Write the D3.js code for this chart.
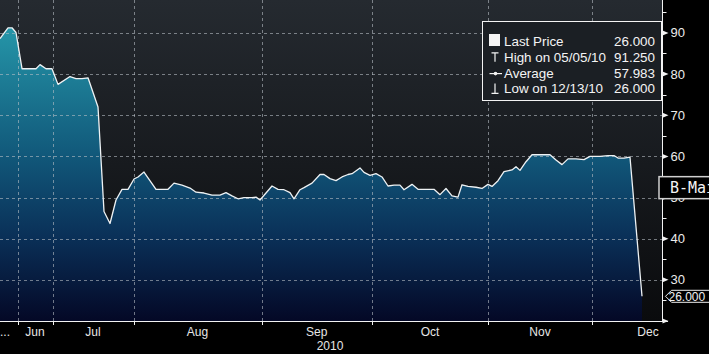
<!DOCTYPE html>
<html>
<head>
<meta charset="utf-8">
<script src="https://cdn.jsdelivr.net/npm/d3@7"></script>
<style>
  html, body { margin: 0; padding: 0; background: #000; overflow: hidden; }
  svg { display: block; }
</style>
</head>
<body>
<div id="wrapper"></div>
<script>
// 1. Data. t = position along the session axis, v = price
const sessions = [0, 4, 6, 8, 11, 18, 20, 23, 26, 29, 35, 38, 41, 44, 49, 52, 55, 58, 61, 64,
  67, 69, 72, 78, 84, 87, 91, 95, 98, 102, 106, 110, 113, 116, 119, 122, 126, 128, 130, 133,
  136, 139, 142, 145, 147, 150, 152, 156, 160, 162, 165, 168, 171, 174, 176, 180, 182, 185, 188, 191,
  194, 197, 200, 202, 206, 209, 212, 217, 220, 223, 226, 229, 231, 234, 238, 241, 244, 246, 249, 252,
  256, 258, 260, 263, 266, 270, 275, 278, 281, 284, 288, 292, 295, 300, 304, 307, 309, 312, 315, 321];
const prices = [88.6, 91.25, 91.25, 90.1, 81.3, 81.3, 82.3, 81.3, 81.3, 77.5, 79.4, 78.9, 78.9, 79.1, 72.0, 46.6, 43.7, 49.4, 52.0, 52.0,
  54.5, 55.0, 56.2, 52.0, 52.0, 53.5, 53.0, 52.3, 51.3, 51.1, 50.6, 50.6, 51.2, 50.4, 49.7, 50.0, 50.0, 50.1, 49.4, 51.1,
  52.8, 52.0, 51.9, 51.2, 49.7, 51.9, 52.4, 53.5, 55.6, 55.6, 54.6, 54.1, 55.0, 55.6, 55.8, 57.2, 56.1, 55.4, 55.8, 55.0,
  52.8, 53.0, 53.0, 51.9, 53.2, 52.0, 52.0, 52.0, 50.7, 52.2, 50.4, 50.1, 53.1, 52.7, 52.5, 52.2, 53.2, 52.7, 54.1, 56.3,
  56.7, 57.5, 56.6, 58.7, 60.4, 60.4, 60.4, 59.1, 58.0, 59.4, 59.4, 59.2, 60.0, 60.0, 60.2, 60.2, 59.6, 59.6, 59.8, 26.0];

const monthNames = ["Jun", "Jul", "Aug", "Sep", "Oct", "Nov", "Dec"];
const monthStarts = [8.75, 26.25, 66.75, 130.75, 186, 244, 296, 352]; // last = Jan (off axis)
const yearLabel = "2010";
const yearPos = 165;
const yMajorTicks = [30, 40, 50, 60, 70, 80, 90];
const yMinorTicks = [25, 35, 45, 55, 65, 75, 85, 95];

const legendLabels = ["Last Price", "High on 05/05/10", "Average", "Low on 12/13/10"];
const legendValues = ["26.000", "91.250", "57.983", "26.000"];
const lastPrice = 26.0;
const bMainValue = 52.4;
const bMainText = "B-Mai";

const data = sessions.map((t, i) => ({ t, v: prices[i] }));
const xAccessor = d => d.t;
const yAccessor = d => d.v;

// 2. Dimensions
const dimensions = { width: 709, height: 354, plotW: 662, plotH: 321 };

// 3. Canvas
const svg = d3.select("#wrapper").append("svg")
  .attr("width", dimensions.width)
  .attr("height", dimensions.height)
  .style("font-family", "'Liberation Sans', Arial, sans-serif");

const defs = svg.append("defs");
const bgGrad = defs.append("linearGradient").attr("id", "bg")
  .attr("gradientUnits", "userSpaceOnUse")
  .attr("x1", 0).attr("y1", 0).attr("x2", 0).attr("y2", dimensions.plotH);
bgGrad.append("stop").attr("offset", 0).attr("stop-color", "#252a30");
bgGrad.append("stop").attr("offset", 1).attr("stop-color", "#0a0b0d");

const areaGrad = defs.append("linearGradient").attr("id", "areaFill")
  .attr("gradientUnits", "userSpaceOnUse")
  .attr("x1", 0).attr("y1", 20).attr("x2", 0).attr("y2", dimensions.plotH);
areaGrad.append("stop").attr("offset", 0).attr("stop-color", "#2699ab");
areaGrad.append("stop").attr("offset", 0.45).attr("stop-color", "#11587a");
areaGrad.append("stop").attr("offset", 0.72).attr("stop-color", "#0a3058");
areaGrad.append("stop").attr("offset", 1).attr("stop-color", "#040826");

// 4. Scales
const xScale = d3.scaleLinear().domain([0, 331]).range([0, dimensions.plotW]);
const yScale = d3.scaleLinear().domain([20, 98]).range([dimensions.plotH, 0]);

svg.append("rect")
  .attr("width", dimensions.plotW).attr("height", dimensions.plotH)
  .attr("fill", "url(#bg)");

// 5. Data
const areaGen = d3.area()
  .x(d => xScale(xAccessor(d)))
  .y0(dimensions.plotH)
  .y1(d => yScale(yAccessor(d)));
svg.append("path").attr("d", areaGen(data)).attr("fill", "url(#areaFill)");

// grid on top of the fill
const grid = svg.append("g")
  .attr("stroke", "#b8bec4").attr("stroke-opacity", 0.6)
  .attr("stroke-dasharray", "3,3").attr("stroke-width", 1);
grid.selectAll("line.h").data(yMajorTicks).join("line")
  .attr("x1", 0).attr("x2", dimensions.plotW)
  .attr("y1", d => Math.round(yScale(d)) + 0.5).attr("y2", d => Math.round(yScale(d)) + 0.5);
grid.selectAll("line.v").data(monthStarts.slice(0, -1)).join("line")
  .attr("y1", 0).attr("y2", dimensions.plotH)
  .attr("x1", d => Math.round(xScale(d)) + 0.5).attr("x2", d => Math.round(xScale(d)) + 0.5);

const lineGen = d3.line()
  .x(d => xScale(xAccessor(d)))
  .y(d => yScale(yAccessor(d)));
svg.append("path").attr("d", lineGen(data))
  .attr("fill", "none").attr("stroke", "#eef2f4").attr("stroke-width", 1.3)
  .attr("stroke-linejoin", "round");

// 6. Axes
const axisColor = "#f2f2f2";
svg.append("line")
  .attr("x1", 0).attr("x2", dimensions.plotW + 6)
  .attr("y1", dimensions.plotH + 0.5).attr("y2", dimensions.plotH + 0.5)
  .attr("stroke", axisColor);
svg.append("line")
  .attr("x1", dimensions.plotW + 0.5).attr("x2", dimensions.plotW + 0.5)
  .attr("y1", 0).attr("y2", dimensions.plotH + 1)
  .attr("stroke", axisColor);

// x ticks and month labels
svg.selectAll("line.xt").data(monthStarts.slice(0, -1)).join("line")
  .attr("x1", d => Math.round(xScale(d)) + 0.5).attr("x2", d => Math.round(xScale(d)) + 0.5)
  .attr("y1", dimensions.plotH).attr("y2", dimensions.plotH + 4)
  .attr("stroke", axisColor);
svg.selectAll("text.month").data(monthNames).join("text")
  .attr("x", (d, i) => xScale((monthStarts[i] + monthStarts[i + 1]) / 2))
  .attr("y", 336)
  .attr("text-anchor", "middle")
  .attr("font-size", 12).attr("fill", "#e6e6e6")
  .text(d => d);
svg.append("text").attr("x", 0).attr("y", 336)
  .attr("font-size", 12).attr("fill", "#e6e6e6").text("...");
svg.append("text")
  .attr("x", xScale(yearPos)).attr("y", 350)
  .attr("text-anchor", "middle").attr("font-size", 12).attr("fill", "#e6e6e6")
  .text(yearLabel);

// y ticks
const ax = dimensions.plotW + 0.5;
svg.selectAll("path.ymaj").data(yMajorTicks.concat([20])).join("path")
  .attr("d", d => `M${ax},${yScale(d) - 2.5} L${ax + 6},${yScale(d)} L${ax},${yScale(d) + 2.5}Z`)
  .attr("fill", axisColor);
svg.selectAll("line.ymin").data(yMinorTicks).join("line")
  .attr("x1", ax).attr("x2", ax + 4)
  .attr("y1", d => Math.round(yScale(d)) + 0.5).attr("y2", d => Math.round(yScale(d)) + 0.5)
  .attr("stroke", axisColor);
svg.selectAll("text.ylab").data(yMajorTicks).join("text")
  .attr("x", ax + 8).attr("y", d => yScale(d) + 4.5)
  .attr("font-size", 13).attr("fill", "#ececec")
  .text(d => d);

// last price tag
const ly = yScale(lastPrice);
svg.append("path")
  .attr("d", `M${ax + 3},${ly} L${ax + 9},${ly - 6} H${dimensions.width + 5} V${ly + 6} H${ax + 9}Z`)
  .attr("fill", "#000").attr("stroke", "#f0f0f0").attr("stroke-width", 1);
svg.append("text").attr("x", ax + 6).attr("y", ly + 4.5)
  .attr("font-size", 12).attr("fill", "#f0f0f0").text(lastPrice.toFixed(3));

// B-Main tag
const by = yScale(bMainValue);
svg.append("rect")
  .attr("x", 659).attr("y", by - 11).attr("width", 70).attr("height", 22)
  .attr("fill", "#000").attr("stroke", "#d0d0d0").attr("stroke-width", 1.5);
svg.append("text").attr("x", 670).attr("y", by + 5.5)
  .attr("font-family", "'DejaVu Sans Mono', monospace").attr("font-size", 15)
  .attr("fill", "#f4f4f4").text(bMainText);

// 7. Legend
const legend = svg.append("g");
legend.append("rect")
  .attr("x", 482.5).attr("y", 21.5).attr("width", 179).attr("height", 79)
  .attr("fill", "#1b1f24").attr("stroke", "#f4f4f4").attr("stroke-width", 1);
const rowY = i => 46 + i * 15.8;
legend.selectAll("text.lab").data(legendLabels).join("text")
  .attr("x", 504).attr("y", (d, i) => rowY(i))
  .attr("font-size", 13.4).attr("fill", "#f4f4f4").text(d => d);
legend.selectAll("text.val").data(legendValues).join("text")
  .attr("x", 655).attr("y", (d, i) => rowY(i))
  .attr("text-anchor", "end")
  .attr("font-size", 13.4).attr("fill", "#f4f4f4").text(d => d);
// icons
legend.append("rect").attr("x", 489).attr("y", 34).attr("width", 11).attr("height", 12).attr("fill", "#f4f4f4");
const ic = legend.append("g").attr("stroke", "#f4f4f4").attr("stroke-width", 1.2).attr("fill", "none");
ic.append("path").attr("d", `M491.5,${rowY(1) - 9} H498.5 M495,${rowY(1) - 9} V${rowY(1)}`);
ic.append("path").attr("d", `M489.5,${rowY(2) - 4} H502`);
legend.append("circle").attr("cx", 495.5).attr("cy", rowY(2) - 4).attr("r", 1.8).attr("fill", "#f4f4f4");
ic.append("path").attr("d", `M495,${rowY(3) - 10} V${rowY(3)} M491.5,${rowY(3)} H498.5`);
</script>
</body>
</html>
